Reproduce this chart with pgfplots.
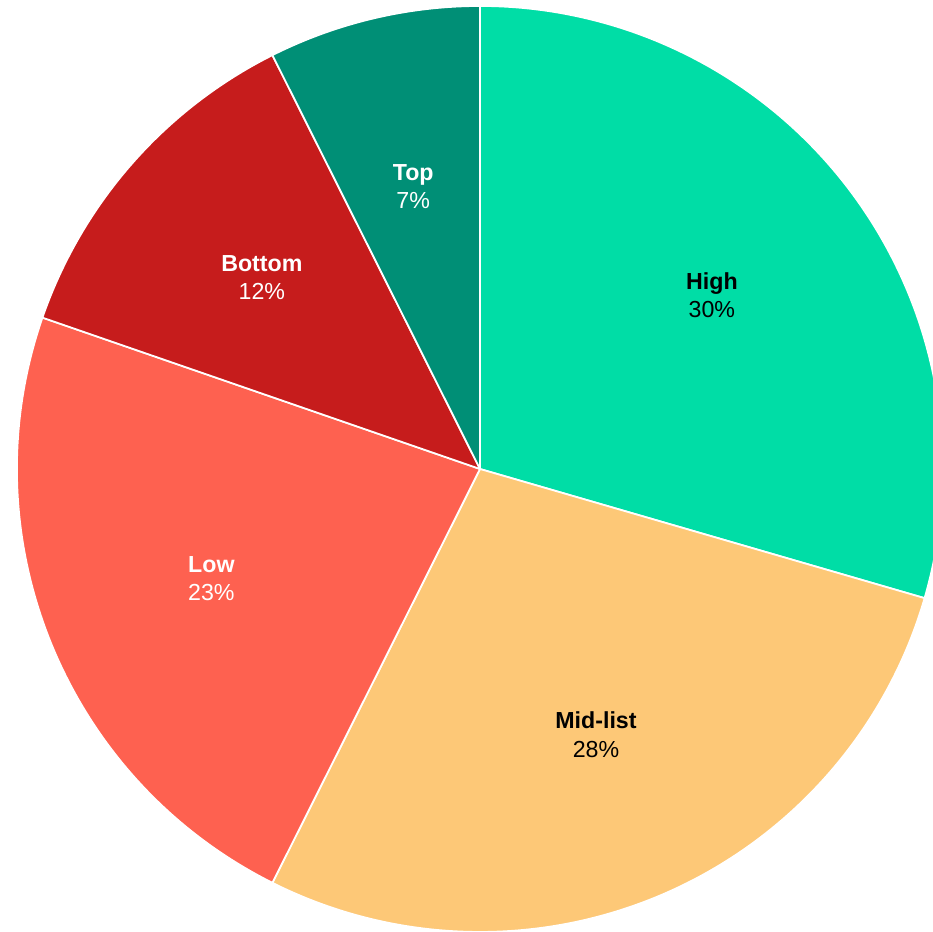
\documentclass[border=0pt]{standalone}
\usepackage{pgfplots}
\usepackage{pgfplotstable}
\pgfplotsset{compat=1.18}
\usepackage{fontspec}
\setmainfont{Liberation Sans}
\definecolor{cHigh}{HTML}{00DDA6}
\definecolor{cMid}{HTML}{FDC877}
\definecolor{cLow}{HTML}{FE6150}
\definecolor{cBottom}{HTML}{C61C1C}
\definecolor{cTop}{HTML}{008F76}
\pgfplotstableread{
label value col txt
High 29.5 cHigh black
Mid-list 27.9 cMid black
Low 22.9 cLow white
Bottom 12.3 cBottom white
Top 7.4 cTop white
}\datatable
\begin{document}
\begin{tikzpicture}
\begin{axis}[
  x=1cm, y=1cm,
  xmin=-4.80, xmax=4.53, ymin=-4.63, ymax=4.69,
  hide axis, clip=true, scale only axis,
]
\coordinate (bl) at (rel axis cs:0,0);
\coordinate (tr) at (rel axis cs:1,1);
\pgfplotstablegetrowsof{\datatable}
\pgfmathtruncatemacro\N{\pgfplotsretval-1}
\def\cum{0}
\pgfplotsforeachungrouped \i in {0,...,\N}{
  \pgfplotstablegetelem{\i}{value}\of\datatable \let\v\pgfplotsretval
  \pgfplotstablegetelem{\i}{col}\of\datatable \let\c\pgfplotsretval
  \pgfplotstablegetelem{\i}{txt}\of\datatable \let\t\pgfplotsretval
  \pgfplotstablegetelem{\i}{label}\of\datatable \let\lab\pgfplotsretval
  \pgfmathsetmacro\a{90-3.6*\cum}
  \pgfmathsetmacro\b{90-3.6*(\cum+\v)}
  \pgfmathsetmacro\m{(\a+\b)/2}
  \pgfmathsetmacro\sx{4.63*cos(\a)}
  \pgfmathsetmacro\sy{4.63*sin(\a)}
  \pgfmathsetmacro\lx{2.90*cos(\m)}
  \pgfmathsetmacro\ly{2.90*sin(\m)}
  \pgfmathtruncatemacro\pct{round(\v)}
  \edef\temp{\noexpand\fill[\c, draw=white, line width=0.5pt, line join=round] (axis cs:0,0) -- (axis cs:\sx,\sy) arc[start angle=\a, end angle=\b, radius=4.63cm] -- cycle;
  \noexpand\node[text=\t, align=center, font=\noexpand\fontsize{6.6}{8}\noexpand\selectfont] at (axis cs:\lx,\ly) {\noexpand\textbf{\lab}\noexpand\\ \pct\noexpand\%};}
  \temp
  \pgfmathsetmacro\cum{\cum+\v}
  \global\let\cum\cum
}
\end{axis}
\pgfresetboundingbox
\path[use as bounding box] (bl) rectangle (tr);
\end{tikzpicture}
\end{document}
